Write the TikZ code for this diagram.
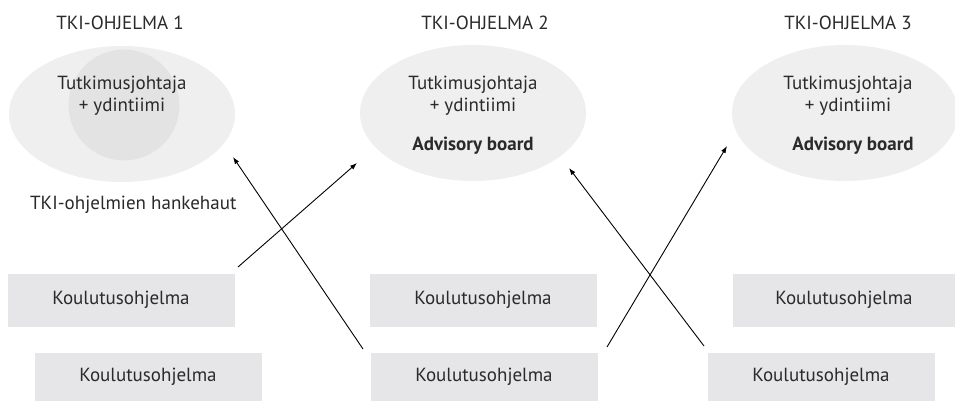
\documentclass[tikz,border=0pt]{standalone}
\usepackage{fontspec}
\setmainfont{PT Sans}
\usetikzlibrary{shapes.geometric,arrows.meta}
\definecolor{ellfill}{HTML}{EFEFEF}
\definecolor{innerfill}{HTML}{E3E3E3}
\definecolor{boxfill}{HTML}{E6E6E8}
\definecolor{txtcol}{HTML}{2A2A2A}
\begin{document}
\begin{tikzpicture}[x=1pt,y=-1pt,
  prog/.style={ellipse, fill=ellfill, minimum width=226pt, minimum height=136pt, inner sep=0pt},
  core/.style={circle, fill=innerfill, minimum size=111pt, inner sep=0pt},
  kbox/.style={rectangle, fill=boxfill, minimum width=227pt, minimum height=53pt, inner sep=0pt},
  txt/.style={text=txtcol, font=\fontsize{19}{22}\selectfont, inner sep=0pt, align=center},
  ttl/.style={text=txtcol, font=\fontsize{19}{22}\selectfont, inner sep=0pt},
  bold/.style={text=txtcol, font=\fontsize{19}{22}\selectfont\bfseries, inner sep=0pt},
  arr/.style={draw=black, line width=0.9pt, -{Latex[length=7pt,width=5pt]}}]
\useasboundingbox (0,0) rectangle (955,401);
\fill[white] (0,0) rectangle (955,401);
% ellipses
\node[prog] (p1) at (122,114) {};
\node[core] (c1) at (124,105) {};
\node[prog] (p2) at (473,113) {};
\node[prog] (p3) at (845,113) {};
% titles
\node[ttl] (t1) at (120,23) {TKI-OHJELMA 1};
\node[ttl] (t2) at (485,23) {TKI-OHJELMA 2};
\node[ttl] (t3) at (848,23) {TKI-OHJELMA 3};
% ellipse texts
\node[txt] (l1) at (122,96) {Tutkimusjohtaja\\+ ydintiimi};
\node[txt] (l2) at (473,96) {Tutkimusjohtaja\\+ ydintiimi};
\node[txt] (l3) at (848,96) {Tutkimusjohtaja\\+ ydintiimi};
\node[bold] (a2) at (473,146) {Advisory board};
\node[bold] (a3) at (853,146) {Advisory board};
% side label
\node[ttl, anchor=west] (h) at (30,205) {TKI-ohjelmien hankehaut};
% boxes
\node[kbox] (b1) at (121,300) {};
\node[kbox, minimum height=49pt] (b2) at (148,377) {};
\node[kbox] (b3) at (483,300) {};
\node[kbox, minimum height=49pt] (b4) at (484,377) {};
\node[kbox, minimum width=222pt] (b5) at (844,300) {};
\node[kbox, minimum height=49pt] (b6) at (821,377) {};
\node[ttl] at (b1) {Koulutusohjelma};
\node[ttl] at (b2) {Koulutusohjelma};
\node[ttl] at (b3) {Koulutusohjelma};
\node[ttl] at (b4) {Koulutusohjelma};
\node[ttl] at (b5) {Koulutusohjelma};
\node[ttl] at (b6) {Koulutusohjelma};
% arrow endpoints
\coordinate (s1) at (238,267);
\coordinate (e1) at (357,163);
\coordinate (s2) at (363,349);
\coordinate (e2) at (233,157);
\coordinate (s3) at (607,347);
\coordinate (e3) at (727,146);
\coordinate (s4) at (704,346);
\coordinate (e4) at (569,168);
\draw[arr] (s1) -- (e1);
\draw[arr] (s2) -- (e2);
\draw[arr] (s3) -- (e3);
\draw[arr] (s4) -- (e4);
\end{tikzpicture}
\end{document}
